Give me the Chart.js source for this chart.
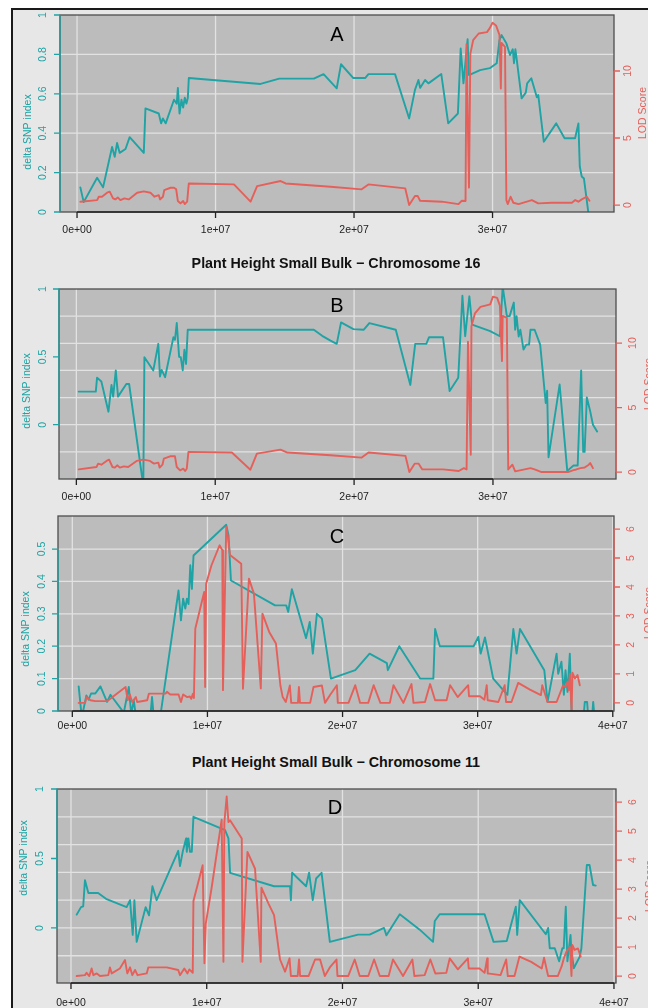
<!DOCTYPE html>
<html lang="en">
<head>
<meta charset="UTF-8">
<title>Plant Height Small Bulk - delta SNP index / LOD Score</title>
<script src="https://cdn.jsdelivr.net/npm/chart.js"></script>
<style>
  body {
    margin: 0;
    width: 648px;
    height: 1008px;
    overflow: hidden;
    position: relative;
    background: #ffffff;
    font-family: "Liberation Sans", Arial, sans-serif;
  }
  #frame {
    position: absolute;
    left: 11px;
    top: 8px;
    width: 700px;
    height: 1100px;
    border-left: 2px solid #1a1a1a;
    border-top: 2px solid #1a1a1a;
    background: #e7e7e7;
  }
  canvas { position: absolute; left: 0; }
  .title {
    position: absolute;
    left: 336px;
    transform: translate(-50%, -50%);
    white-space: nowrap;
    font-weight: bold;
    font-size: 14.3px;
    color: #111;
  }
  .tag {
    position: absolute;
    transform: translate(-50%, -50%);
    font-size: 20px;
    color: #000;
  }
</style>
</head>
<body>
<div id="frame"></div>
<canvas id="cA" width="648" height="250" style="top:0px"></canvas>
<canvas id="cB" width="648" height="255" style="top:250px"></canvas>
<canvas id="cC" width="648" height="240" style="top:505px"></canvas>
<canvas id="cD" width="648" height="238" style="top:770px"></canvas>
<div class="title" style="top:263px">Plant Height Small Bulk − Chromosome 16</div>
<div class="title" style="top:762px">Plant Height Small Bulk − Chromosome 11</div>
<div class="tag" style="left:337px; top:34px">A</div>
<div class="tag" style="left:337px; top:305px">B</div>
<div class="tag" style="left:337px; top:536px">C</div>
<div class="tag" style="left:335px; top:807px">D</div>
<script>
// positions in Mb, [position, value]
const snpA = [[0.24,0.125],[0.48,0.05],[1.45,0.174],[1.88,0.125],[2.53,0.33],[2.72,0.28],[2.89,0.35],[3.08,0.30],[3.5,0.32],[3.8,0.38],[4.82,0.30],[4.94,0.526],[5.9,0.50],[6.07,0.45],[6.2,0.475],[6.4,0.45],[7.0,0.57],[7.2,0.55],[7.28,0.63],[7.4,0.50],[7.54,0.57],[7.66,0.53],[7.78,0.58],[7.9,0.55],[8.0,0.58],[8.07,0.68],[13.25,0.65],[14.6,0.677],[17.1,0.677],[17.8,0.70],[18.75,0.628],[19.06,0.75],[19.95,0.68],[20.8,0.68],[21.04,0.70],[22.96,0.70],[23.98,0.475],[24.4,0.62],[24.65,0.67],[24.77,0.63],[25.13,0.67],[25.37,0.653],[26.3,0.70],[26.8,0.45],[27.5,0.50],[27.7,0.83],[27.9,0.653],[28.2,0.877],[28.3,0.695],[29.1,0.72],[29.8,0.73],[30.3,0.755],[30.5,0.873],[30.65,0.898],[31.0,0.856],[31.26,0.797],[31.46,0.826],[31.55,0.755],[31.65,0.826],[31.75,0.772],[31.9,0.687],[32.1,0.577],[32.4,0.606],[32.5,0.653],[32.8,0.679],[33.2,0.582],[33.3,0.594],[33.7,0.357],[34.6,0.45],[35.2,0.374],[35.96,0.374],[36.2,0.45],[36.3,0.23],[36.44,0.18],[36.6,0.17],[36.95,-0.02]];
const lodA = [[0.24,0.25],[1.45,0.37],[1.57,0.62],[1.8,0.62],[2.17,0.92],[2.36,1.0],[2.6,0.5],[2.77,0.42],[2.94,0.57],[3.13,0.37],[3.42,0.5],[3.73,0.42],[4.34,0.92],[4.82,1.02],[5.3,0.92],[5.59,0.62],[5.9,0.74],[6.0,0.42],[6.2,0.62],[6.3,1.12],[6.75,1.29],[7.0,1.29],[7.16,1.17],[7.28,0.3],[7.47,0.12],[7.66,0.3],[7.78,0.07],[7.95,0.25],[8.07,1.61],[11.33,1.54],[12.53,0.25],[13.0,1.41],[14.7,1.79],[15.06,1.61],[18.3,1.36],[20.55,1.17],[21.04,1.54],[23.7,1.24],[23.98,0.0],[24.4,0.67],[24.6,0.67],[24.77,0.32],[26.34,0.25],[27.54,0.07],[27.78,0.32],[28.05,0.3],[28.12,12.0],[28.3,1.3],[28.4,11.3],[28.6,12.3],[29.0,12.8],[29.6,12.9],[29.8,13.2],[30.0,13.6],[30.25,13.4],[30.5,12.7],[30.6,8.7],[30.65,12.1],[30.9,11.8],[31.0,0.37],[31.1,0.07],[31.3,0.62],[31.5,0.17],[31.88,0.07],[32.84,0.37],[33.3,0.12],[34.28,0.17],[35.73,0.17],[35.97,0.37],[36.2,0.25],[36.44,0.42],[36.8,0.62],[37.0,0.32]];

const snpB = [[0.17,0.244],[1.4,0.244],[1.49,0.347],[1.8,0.318],[2.31,0.096],[2.53,0.293],[2.65,0.207],[2.84,0.40],[3.0,0.207],[3.6,0.30],[3.8,0.30],[4.82,-0.45],[4.9,0.497],[5.54,0.40],[5.9,0.596],[6.02,0.355],[6.14,0.404],[6.39,0.35],[6.99,0.645],[7.1,0.626],[7.23,0.749],[7.4,0.50],[7.52,0.497],[7.66,0.40],[7.78,0.552],[7.9,0.448],[8.02,0.70],[17.1,0.70],[17.7,0.655],[18.3,0.62],[18.75,0.596],[19.06,0.754],[19.95,0.704],[20.7,0.70],[21.1,0.749],[23.0,0.70],[24.05,0.293],[24.4,0.596],[25.2,0.596],[25.4,0.645],[26.4,0.645],[26.88,0.248],[27.5,0.346],[27.8,0.95],[28.0,0.652],[28.3,0.946],[28.5,0.738],[29.8,0.69],[30.5,0.652],[30.7,1.02],[31.0,0.80],[31.2,0.80],[31.5,0.90],[31.6,0.70],[31.7,0.80],[31.85,0.65],[31.97,0.70],[32.2,0.554],[32.4,0.59],[32.6,0.59],[32.7,0.70],[33.0,0.70],[33.4,0.59],[33.8,0.16],[33.9,0.25],[34.0,-0.24],[34.8,0.296],[35.35,-0.34],[35.8,-0.30],[36.1,-0.30],[36.35,0.40],[36.5,-0.20],[36.6,-0.20],[36.76,0.20],[37.0,0.10],[37.2,0.0],[37.5,-0.05]];
const lodB = [[0.17,0.21],[1.45,0.39],[1.57,0.65],[1.8,0.57],[2.17,0.86],[2.36,0.96],[2.6,0.39],[2.77,0.34],[2.94,0.52],[3.13,0.34],[3.42,0.44],[3.73,0.39],[4.34,0.86],[4.82,0.96],[5.3,0.86],[5.59,0.65],[5.9,0.73],[6.0,0.34],[6.2,0.57],[6.3,1.04],[6.75,1.22],[7.1,1.22],[7.23,0.39],[7.47,0.13],[7.7,0.26],[7.83,0.08],[7.95,0.26],[8.07,1.56],[11.2,1.51],[12.53,0.18],[13.0,1.43],[14.7,1.74],[15.2,1.51],[18.3,1.3],[20.55,1.12],[21.04,1.51],[23.7,1.25],[23.98,0],[24.36,0.65],[24.65,0.65],[24.9,0.21],[26.4,0.21],[27.54,0.08],[27.9,0.3],[28.1,0.2],[28.2,10.1],[28.4,1.34],[28.45,11.3],[28.7,12.3],[29.1,12.8],[29.8,13.0],[30.0,13.6],[30.3,13.5],[30.5,12.9],[30.65,8.6],[30.7,12.1],[31.0,11.95],[31.1,0.2],[31.4,0.57],[31.6,0.05],[32.7,0.3],[33.0,0.2],[33.5,0],[35.4,0],[35.8,0.15],[36.0,0.2],[36.3,0.3],[36.6,0.35],[36.9,0.57],[37.0,0.7],[37.2,0.3]];

const snpC = [[0.47,0.076],[0.7,-0.02],[1.04,0.048],[1.2,0.035],[1.39,0.054],[1.7,0.054],[2.08,0.076],[2.57,0.028],[2.82,0.05],[3.81,-0.005],[4.18,0.074],[4.36,-0.01],[4.55,0.033],[4.75,-0.03],[5.75,-0.03],[5.9,0.043],[6.05,-0.03],[6.55,-0.005],[7.86,0.372],[8.04,0.28],[8.2,0.347],[8.36,0.316],[8.48,0.347],[8.6,0.33],[8.73,0.45],[8.85,0.377],[8.97,0.48],[11.39,0.575],[11.56,0.542],[11.74,0.403],[15.0,0.326],[15.83,0.326],[15.98,0.306],[16.25,0.376],[17.3,0.225],[17.57,0.275],[17.8,0.177],[18.1,0.30],[18.47,0.285],[19.14,0.10],[20.94,0.126],[22.0,0.177],[23.28,0.148],[23.35,0.126],[24.2,0.20],[25.74,0.10],[26.72,0.10],[26.85,0.253],[27.2,0.20],[29.7,0.20],[30.05,0.229],[30.22,0.177],[30.54,0.227],[31.15,0.10],[32.2,0.05],[32.64,0.253],[32.88,0.177],[33.13,0.253],[34.93,0.126],[35.17,0.028],[35.84,0.177],[35.96,0.115],[36.2,0.152],[36.38,0.05],[36.5,0.126],[36.65,0.059],[36.82,0.177],[36.95,0],[37.05,-0.06],[37.75,-0.06],[37.93,0.028],[38.1,0.028],[38.2,-0.03],[38.45,-0.03],[38.55,0.028],[38.67,-0.03]];
const lodC = [[0.47,0.0],[0.95,0.0],[1.04,0.2],[1.34,0.09],[1.7,0.06],[2.57,0.06],[3.94,0.55],[4.1,0.09],[4.26,0.29],[4.43,0.03],[4.7,0.2],[4.8,0.03],[5.54,0.09],[5.67,0.32],[6.9,0.32],[7.0,0.38],[7.25,0.29],[7.86,0.29],[8.04,0.03],[8.2,0.29],[8.5,0.2],[8.7,0.22],[8.8,0.14],[8.93,0.32],[9.0,0.17],[9.1,2.56],[9.76,3.83],[9.83,0.55],[9.9,4.1],[10.3,4.75],[10.9,5.44],[11.1,5.27],[11.15,0.44],[11.39,6.07],[11.5,5.8],[11.67,5.1],[12.5,4.8],[12.63,0.49],[13.07,4.29],[13.44,3.77],[13.95,0.5],[14.07,3.08],[14.57,2.45],[15.07,2.05],[15.4,0.6],[15.57,0.2],[15.8,0.03],[16.1,0.6],[16.2,0],[16.7,0],[16.77,0.55],[16.85,0],[17.6,0],[17.85,0.55],[18.47,0.6],[18.7,0],[19.1,0.29],[19.58,0.61],[19.65,0],[20.44,0],[20.94,0.61],[21.3,0],[21.9,0],[22.3,0.61],[22.8,0],[23.5,0],[23.77,0.61],[24.5,0],[25.1,0.65],[25.25,0],[26.1,0.03],[26.48,0.65],[26.85,0.09],[27.7,0.09],[27.96,0.61],[28.52,0.2],[29.3,0.61],[29.36,0.23],[30.17,0.23],[30.5,0.11],[30.67,0.61],[30.74,0.09],[31.53,0.03],[32.0,0.61],[32.1,0.03],[32.5,0.03],[33.0,0.69],[33.87,0.46],[34.68,0.27],[34.78,0.61],[35.17,0.03],[35.84,0.03],[36.33,0.61],[36.5,0.55],[36.65,0.73],[36.75,0.44],[36.82,1.01],[36.95,-0.25],[37.02,1.04],[37.2,0.84],[37.39,0.96],[37.56,0.61]];

const snpD = [[0.42,0.096],[0.74,0.15],[0.9,0.156],[1.03,0.344],[1.28,0.252],[2.0,0.252],[2.58,0.21],[4.1,0.15],[4.35,0.2],[4.55,-0.05],[4.67,0.2],[4.84,-0.1],[5.5,0.15],[5.75,0.091],[6.0,0.30],[6.31,0.2],[7.9,0.555],[8.03,0.445],[8.23,0.548],[8.48,0.644],[8.53,0.548],[8.65,0.644],[8.77,0.548],[8.9,0.548],[9.02,0.80],[11.35,0.704],[11.6,0.644],[11.72,0.397],[14.96,0.30],[16.14,0.30],[16.2,0.2],[16.29,0.397],[17.32,0.30],[17.54,0.397],[17.81,0.2],[18.06,0.356],[18.46,0.397],[19.07,-0.1],[21.15,-0.048],[22.0,-0.048],[23.06,0],[23.24,-0.053],[24.22,0.099],[25.69,-0.012],[26.67,-0.1],[26.8,0.05],[27.16,0.099],[30.47,0.099],[31.13,-0.1],[32.1,-0.094],[32.77,0.153],[32.87,-0.05],[33.06,0.20],[34.98,-0.045],[35.15,0],[35.27,-0.146],[35.64,-0.146],[35.96,-0.24],[36.2,-0.146],[36.3,-0.146],[36.45,0.153],[36.57,-0.24],[36.8,-0.05],[36.85,-0.146],[37.04,-0.29],[37.48,-0.206],[37.6,-0.146],[38.0,0.453],[38.2,0.453],[38.46,0.309],[38.66,0.305]];
const lodD = [[0.42,0],[1.03,0.03],[1.15,0.11],[1.35,0],[1.52,0.26],[1.65,0.03],[1.9,0.09],[2.14,0],[2.75,0.03],[2.87,0.3],[3.0,0.09],[3.6,0.26],[3.98,0.55],[4.15,0.09],[4.35,0.3],[4.52,0.03],[4.72,0.21],[4.9,0.03],[5.58,0.09],[5.7,0.3],[7.05,0.3],[7.9,0.21],[8.03,0.03],[8.35,0.26],[8.58,0.09],[8.72,0.23],[8.97,0.11],[9.02,2.59],[9.7,3.82],[9.83,0.44],[9.93,1.81],[10.37,3.07],[11.1,5.39],[11.23,0.49],[11.3,5.31],[11.47,6.19],[11.6,5.31],[11.72,5.37],[12.58,4.74],[12.63,0.49],[13.0,4.28],[13.56,3.7],[13.98,0.49],[14.03,3.05],[14.55,2.5],[14.96,2.1],[15.4,0.57],[15.77,0.15],[16.1,0.61],[16.2,0],[16.7,0],[16.8,0.57],[16.88,0],[17.5,0],[17.98,0.57],[18.35,0.57],[18.7,0],[19.1,0.32],[19.56,0.57],[19.63,0],[20.42,0],[20.9,0.57],[21.27,0],[21.9,0],[22.33,0.57],[22.75,0],[23.4,0],[23.72,0.57],[24.46,0],[25.15,0.57],[25.3,0],[26.05,0.03],[26.47,0.57],[26.84,0.09],[27.65,0.11],[27.9,0.61],[28.5,0.23],[29.24,0.61],[29.3,0.26],[30.1,0.26],[30.47,0.11],[30.66,0.61],[30.7,0.09],[31.64,0.03],[32.06,0.57],[32.18,0],[32.67,0],[33.04,0.67],[33.9,0.49],[34.68,0.26],[34.85,0.63],[35.15,0],[35.86,0],[36.15,0.34],[36.3,0.6],[36.5,0.84],[36.75,1.01],[36.87,0],[36.94,1.07],[37.1,0.9],[37.35,0.95],[37.55,0.67]];

// axis ticks
const xTicks16 = [0, 10, 20, 30];
const xLabels16 = ['0e+00', '1e+07', '2e+07', '3e+07'];
const xTicks11 = [0, 10, 20, 30, 40];
const xLabels11 = ['0e+00', '1e+07', '2e+07', '3e+07', '4e+07'];
const snpTicksA = [0, 0.2, 0.4, 0.6, 0.8, 1];
const snpTicksB = [0, 0.5, 1];
const snpTicksC = [0, 0.1, 0.2, 0.3, 0.4, 0.5];
const snpTicksD = [0, 0.5, 1];
const lodTicks16 = [0, 5, 10];
const lodTicks11 = [0, 1, 2, 3, 4, 5, 6];
const gridA = [0.2, 0.4, 0.6, 0.8];
const gridB = [-0.2, 0, 0.2, 0.4, 0.6, 0.8];
const gridC = [0.1, 0.2, 0.3, 0.4, 0.5];
const gridD = [-0.2, 0, 0.2, 0.4, 0.6, 0.8];

const TEAL = '#1fa3a4';
const RED = '#e5605a';
const FONT = '"Liberation Sans", Arial, sans-serif';

function vText(ctx, s, px, py, color, font) {
    ctx.save();
    ctx.translate(px, py);
    ctx.rotate(-Math.PI / 2);
    ctx.fillStyle = color;
    ctx.font = font;
    ctx.textAlign = 'center';
    ctx.textBaseline = 'middle';
    ctx.fillText(s, 0, 0);
    ctx.restore();
}

// base-graphics look: grey panel, white grid, box, outward ticks
const rFrame = {
    id: 'rFrame',
    beforeDatasetsDraw(chart, args, o) {
        const { ctx, chartArea: a, scales: { x, y } } = chart;
        ctx.save();
        ctx.fillStyle = '#bcbcbc';
        ctx.fillRect(a.left, a.top, a.right - a.left, a.bottom - a.top);
        ctx.strokeStyle = '#e2e2e2';
        ctx.lineWidth = 1.3;
        ctx.beginPath();
        o.grid.forEach(v => {
            const py = y.getPixelForValue(v);
            ctx.moveTo(a.left, py);
            ctx.lineTo(a.right, py);
        });
        o.xTicks.forEach(v => {
            const px = x.getPixelForValue(v);
            ctx.moveTo(px, a.top);
            ctx.lineTo(px, a.bottom);
        });
        ctx.stroke();
        ctx.restore();
    },
    afterDatasetsDraw(chart, args, o) {
        const { ctx, chartArea: a, scales: { x, y, y2 } } = chart;
        const off = o.top;
        ctx.save();
        ctx.strokeStyle = '#4d4d4d';
        ctx.lineWidth = 1.3;
        ctx.strokeRect(a.left, a.top, a.right - a.left, a.bottom - a.top);

        // left axis (delta SNP index)
        ctx.strokeStyle = TEAL;
        ctx.beginPath();
        ctx.moveTo(a.left, y.getPixelForValue(o.snpTicks[0]));
        ctx.lineTo(a.left, y.getPixelForValue(o.snpTicks[o.snpTicks.length - 1]));
        o.snpTicks.forEach(v => {
            const py = y.getPixelForValue(v);
            ctx.moveTo(a.left, py);
            ctx.lineTo(a.left - 6, py);
        });
        ctx.stroke();
        o.snpTicks.forEach(v => vText(ctx, String(v), o.leftX, y.getPixelForValue(v), TEAL, '10.5px ' + FONT));

        // right axis (LOD)
        ctx.strokeStyle = RED;
        ctx.beginPath();
        ctx.moveTo(a.right, y2.getPixelForValue(o.lodTicks[0]));
        ctx.lineTo(a.right, y2.getPixelForValue(o.lodTicks[o.lodTicks.length - 1]));
        o.lodTicks.forEach(v => {
            const py = y2.getPixelForValue(v);
            ctx.moveTo(a.right, py);
            ctx.lineTo(a.right + 6, py);
        });
        ctx.stroke();
        o.lodTicks.forEach(v => vText(ctx, String(v), o.rightX, y2.getPixelForValue(v), RED, '10.5px ' + FONT));

        // bottom axis
        ctx.strokeStyle = '#222';
        ctx.beginPath();
        ctx.moveTo(x.getPixelForValue(o.xTicks[0]), a.bottom);
        ctx.lineTo(x.getPixelForValue(o.xTicks[o.xTicks.length - 1]), a.bottom);
        o.xTicks.forEach(v => {
            const px = x.getPixelForValue(v);
            ctx.moveTo(px, a.bottom);
            ctx.lineTo(px, a.bottom + 6);
        });
        ctx.stroke();
        ctx.fillStyle = '#222';
        ctx.font = '10.5px ' + FONT;
        ctx.textAlign = 'center';
        ctx.textBaseline = 'middle';
        o.xTicks.forEach((v, i) => ctx.fillText(o.xLabels[i], x.getPixelForValue(v), o.xLabelY - off));

        vText(ctx, 'delta SNP index', o.yTitle[0], o.yTitle[1] - off, TEAL, '10.5px ' + FONT);
        vText(ctx, 'LOD Score', o.y2Title[0], o.y2Title[1] - off, RED, '10.5px ' + FONT);
        ctx.restore();
    }
};

// page layout of the four panels (page pixels)
const panels = [
    { id: 'cA', top: 0, h: 250, box: [60, 15, 614, 212], x: [-1.23, 38.77], y: [0, 1], y2: [-0.52, 14.18],
      snp: snpA, lod: lodA, xTicks: xTicks16, xLabels: xLabels16, snpTicks: snpTicksA, lodTicks: lodTicks16, grid: gridA,
      leftX: 43, rightX: 628, xLabelY: 230, yTitle: [28, 132], y2Title: [643, 113] },
    { id: 'cB', top: 250, h: 255, box: [59, 289, 616, 479], x: [-1.25, 38.86], y: [-0.4, 1], y2: [-0.54, 14.19],
      snp: snpB, lod: lodB, xTicks: xTicks16, xLabels: xLabels16, snpTicks: snpTicksB, lodTicks: lodTicks16, grid: gridB,
      leftX: 43, rightX: 633, xLabelY: 497, yTitle: [27, 391], y2Title: [649, 384] },
    { id: 'cC', top: 505, h: 240, box: [58, 516, 614, 711], x: [-1.06, 40.09], y: [0, 0.602], y2: [-0.28, 6.45],
      snp: snpC, lod: lodC, xTicks: xTicks11, xLabels: xLabels11, snpTicks: snpTicksC, lodTicks: lodTicks11, grid: gridC,
      leftX: 42, rightX: 631, xLabelY: 726, yTitle: [26, 629], y2Title: [649, 613] },
    { id: 'cD', top: 770, h: 238, box: [57, 789, 616, 983], x: [-1.03, 40.15], y: [-0.396, 1], y2: [-0.24, 6.45],
      snp: snpD, lod: lodD, xTicks: xTicks11, xLabels: xLabels11, snpTicks: snpTicksD, lodTicks: lodTicks11, grid: gridD,
      leftX: 40, rightX: 633, xLabelY: 1003, yTitle: [24, 858], y2Title: [650, 886] }
];

const toPoints = arr => arr.map(([x, y]) => ({ x, y }));

panels.forEach(p => {
    const lineStyle = { pointRadius: 0, borderWidth: 1.9, tension: 0, fill: false,
                        borderJoinStyle: 'round', borderCapStyle: 'round' };
    new Chart(document.getElementById(p.id), {
        type: 'line',
        data: {
            datasets: [
                Object.assign({ label: 'LOD Score', data: toPoints(p.lod), yAxisID: 'y2', borderColor: RED }, lineStyle),
                Object.assign({ label: 'delta SNP index', data: toPoints(p.snp), yAxisID: 'y', borderColor: TEAL }, lineStyle)
            ]
        },
        options: {
            responsive: false,
            animation: false,
            events: [],
            layout: {
                padding: { left: p.box[0], top: p.box[1] - p.top, right: 648 - p.box[2], bottom: p.top + p.h - p.box[3] }
            },
            scales: {
                x: { type: 'linear', display: false, min: p.x[0], max: p.x[1] },
                y: { type: 'linear', display: false, min: p.y[0], max: p.y[1] },
                y2: { type: 'linear', display: false, min: p.y2[0], max: p.y2[1] }
            },
            plugins: {
                legend: { display: false },
                tooltip: { enabled: false },
                rFrame: p
            }
        },
        plugins: [rFrame]
    });
});
</script>
</body>
</html>
